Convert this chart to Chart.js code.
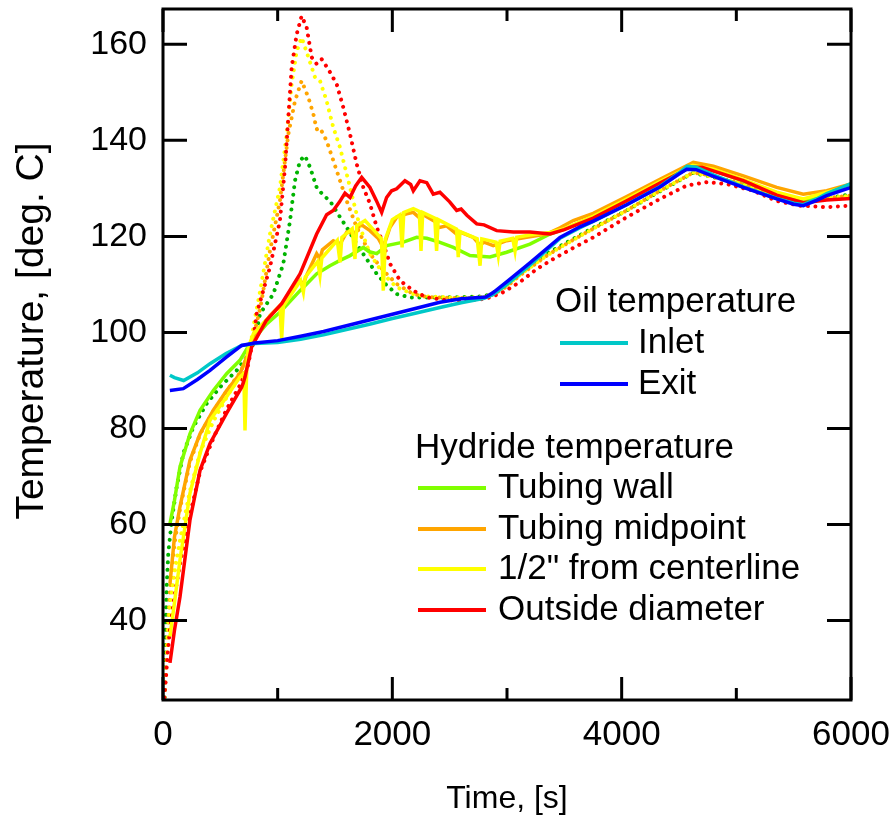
<!DOCTYPE html>
<html>
<head>
<meta charset="utf-8">
<title>Hydride and oil temperature</title>
<script src="https://cdn.jsdelivr.net/npm/chart.js@4.4.1/dist/chart.umd.min.js"></script>
<style>
    html, body { margin: 0; padding: 0; background: #fff; }
    canvas { display: block; }
</style>
</head>
<body>
<canvas id="tempChart" width="891" height="822"></canvas>
<script>
const xTicks = [0, 2000, 4000, 6000];
const xMinorTicks = [1000, 3000, 5000];
const yTicks = [40, 60, 80, 100, 120, 140, 160];

// oil temperature, [time s, deg C]
const inlet = [[60,91.1],[100,90.6],[180,90.0],[300,91.6],[410,93.5],[550,95.6],[686,97.3],[800,97.7],[900,97.8],[1000,97.9],[1200,98.6],[1400,99.5],[1600,100.6],[1800,101.7],[2000,102.9],[2200,104.0],[2415,105.2],[2600,106.2],[2800,107.1],[2880,107.9],[3000,110.0],[3200,114.0],[3462,119.6],[3636,121.8],[3752,123.1],[4044,126.6],[4334,130.4],[4500,133.2],[4570,134.6],[4650,134.4],[4800,132.8],[5061,130.3],[5352,127.9],[5500,126.9],[5584,126.6],[5700,127.8],[5788,128.9],[6000,131.0]];
const exit = [[60,87.9],[177,88.3],[300,90.2],[410,92.1],[550,94.8],[686,97.3],[800,97.8],[1000,98.3],[1200,99.2],[1400,100.2],[1600,101.4],[1800,102.6],[2000,103.8],[2200,105.0],[2415,106.3],[2600,107.0],[2815,107.4],[2880,108.3],[3000,110.6],[3200,114.5],[3462,119.8],[3636,122.0],[3752,123.2],[4044,126.6],[4334,130.3],[4500,133.0],[4567,134.0],[4650,133.9],[4800,132.5],[5061,130.2],[5352,127.8],[5500,126.7],[5584,126.4],[5700,127.5],[5788,128.5],[6000,130.2]];

// hydride temperature, solid lines
const tubingWall = [[61,60.2],[100,65.0],[148,72.0],[235,78.9],[323,83.8],[439,87.9],[555,91.4],[671,94.2],[759,97.7],[904,101.8],[1020,104.2],[1195,108.7],[1340,112.2],[1456,113.9],[1544,115.0],[1631,116.0],[1747,117.7],[1800,116.8],[1864,116.4],[1951,118.1],[2096,118.8],[2212,119.8],[2300,119.6],[2386,119.0],[2532,117.7],[2677,116.0],[2852,115.7],[2997,116.7],[3200,118.4],[3375,120.5],[3500,121.5],[3752,124.0],[4044,127.5],[4334,131.2],[4600,134.6],[4700,134.6],[5061,131.5],[5352,128.8],[5584,127.3],[5788,129.0],[6000,130.6]];
const tubingMid = [[61,47.7],[100,57.4],[148,63.7],[235,73.4],[323,78.9],[439,83.8],[555,87.9],[671,91.4],[730,94.9],[788,98.3],[933,103.5],[1049,106.3],[1195,110.8],[1224,110.0],[1250,111.8],[1340,116.4],[1369,115.3],[1390,117.2],[1485,119.1],[1544,118.4],[1602,120.9],[1674,120.6],[1718,122.6],[1805,121.2],[1880,119.5],[1921,117.7],[1980,121.9],[2038,124.0],[2125,124.7],[2183,125.0],[2250,123.6],[2270,124.5],[2386,122.9],[2400,121.8],[2474,122.2],[2575,120.2],[2590,120.9],[2706,119.8],[2765,118.2],[2800,118.8],[2880,118.1],[2997,119.1],[3171,119.8],[3346,120.5],[3462,121.8],[3578,123.3],[3752,124.8],[4044,128.3],[4334,131.9],[4625,135.4],[4800,134.6],[5061,132.6],[5352,130.2],[5584,128.8],[5788,129.5],[6000,130.9]];
const halfInch = [[61,36.7],[100,43.7],[148,52.6],[235,66.5],[323,74.8],[410,81.7],[555,86.6],[671,90.7],[705,91.5],[715,79.6],[730,92.0],[744,96.9],[788,99.7],[900,102.6],[1020,105.5],[1035,98.7],[1050,105.5],[1200,110.8],[1224,108.4],[1240,111.5],[1350,114.8],[1369,111.9],[1385,115.5],[1520,119.2],[1544,114.6],[1560,119.8],[1650,121.6],[1674,115.3],[1690,122.2],[1762,123.3],[1850,121.0],[1905,119.5],[1921,108.7],[1940,119.5],[2000,123.5],[2067,124.5],[2085,117.7],[2100,125.0],[2183,125.8],[2235,125.2],[2250,117.0],[2265,125.0],[2370,123.8],[2386,117.0],[2400,123.5],[2560,121.5],[2575,115.7],[2590,121.0],[2740,119.5],[2765,113.9],[2780,119.5],[2905,118.8],[2924,116.0],[2940,119.0],[3050,119.6],[3070,117.0],[3085,119.8],[3200,120.3],[3375,120.8],[3500,121.6],[3752,124.2],[4044,127.8],[4334,131.4],[4620,134.8],[4800,134.0],[5061,131.8],[5352,129.2],[5584,127.8],[5788,129.2],[6000,130.6]];
const outsideDia = [[61,31.2],[100,38.0],[148,44.9],[235,60.9],[323,71.3],[410,76.9],[555,83.2],[686,88.6],[700,89.5],[715,90.7],[773,97.0],[900,102.5],[1035,106.0],[1195,112.2],[1340,120.5],[1427,124.5],[1485,125.4],[1540,127.2],[1587,129.0],[1631,128.1],[1680,130.5],[1733,132.3],[1805,130.2],[1860,127.5],[1907,125.0],[1950,128.1],[1994,129.5],[2038,129.9],[2110,131.6],[2160,130.8],[2183,129.5],[2241,131.6],[2300,131.2],[2357,128.8],[2415,129.2],[2500,127.2],[2561,125.4],[2600,125.7],[2650,124.4],[2736,122.6],[2800,122.4],[2910,121.2],[3055,120.9],[3200,120.9],[3375,120.5],[3500,121.4],[3752,123.8],[4044,127.4],[4334,131.1],[4600,134.4],[4700,134.4],[5061,131.6],[5352,128.6],[5584,127.0],[5788,127.6],[6000,127.9]];

// hydride temperature, dotted lines (second run)
const tubingWall2 = [[15,24.0],[17,33.3],[32,47.0],[46,54.0],[76,60.9],[119,67.8],[177,74.8],[264,80.3],[381,85.2],[497,88.6],[643,92.1],[730,94.9],[802,98.3],[846,103.9],[962,108.0],[1049,114.3],[1108,123.3],[1151,131.6],[1195,135.8],[1238,136.8],[1282,134.4],[1340,130.2],[1400,128.5],[1456,127.4],[1544,124.0],[1602,121.9],[1689,118.4],[1776,115.3],[1864,112.2],[1951,109.8],[2038,108.0],[2154,107.3],[2300,107.3],[2474,107.3],[2650,107.4],[2800,107.5],[2880,108.3],[3000,110.0],[3113,112.2],[3346,116.4],[3578,119.5],[3752,121.8],[4044,125.4],[4334,129.4],[4620,133.2],[4750,132.6],[5061,130.8],[5352,127.9],[5584,126.8],[5788,127.9],[6000,128.8]];
const tubingMid2 = [[12,24.0],[25,30.0],[40,38.0],[60,46.0],[100,56.0],[150,63.5],[235,73.0],[323,78.8],[439,83.6],[555,87.8],[671,91.6],[760,96.0],[802,100.5],[850,105.3],[933,117.0],[1020,127.4],[1093,141.3],[1151,148.2],[1209,152.4],[1268,148.9],[1311,145.5],[1340,142.3],[1369,142.6],[1427,139.9],[1485,135.8],[1544,131.6],[1602,127.4],[1689,121.9],[1805,116.4],[1921,112.9],[2038,110.1],[2183,108.0],[2300,107.4],[2500,107.2],[2700,107.2],[2800,107.3],[2880,107.9],[3000,109.6],[3113,111.9],[3346,116.0],[3578,119.3],[3752,121.6],[4044,125.4],[4334,129.5],[4625,133.3],[4750,132.8],[5061,130.9],[5352,128.0],[5584,126.8],[5788,128.0],[6000,128.5]];
const halfInch2 = [[12,24.0],[25,29.0],[40,36.0],[60,43.0],[100,50.0],[150,57.0],[235,67.0],[323,75.0],[439,81.5],[555,86.5],[671,91.0],[760,97.0],[802,103.0],[850,109.0],[933,120.5],[1020,130.2],[1079,141.3],[1122,151.7],[1166,158.6],[1209,161.4],[1268,157.3],[1326,153.1],[1369,152.4],[1427,148.2],[1485,142.7],[1544,138.5],[1602,133.0],[1660,127.4],[1718,121.9],[1805,116.4],[1921,112.2],[2038,109.4],[2183,108.0],[2300,107.5],[2500,107.3],[2700,107.3],[2800,107.4],[2880,108.0],[3000,109.8],[3113,112.0],[3346,116.0],[3462,117.7],[3752,121.6],[4044,125.4],[4334,129.5],[4625,133.3],[4750,132.6],[5061,130.9],[5352,127.8],[5584,126.8],[5788,127.9],[6000,128.5]];
const outsideDia2 = [[12,24.0],[25,28.0],[40,33.0],[60,38.0],[100,45.0],[150,52.0],[235,62.0],[323,71.0],[439,78.0],[555,84.0],[671,89.0],[740,93.0],[790,99.0],[817,103.9],[933,113.6],[1020,123.3],[1064,134.4],[1093,144.8],[1122,155.2],[1166,162.1],[1209,165.9],[1253,163.5],[1297,157.3],[1340,155.9],[1384,156.9],[1442,154.8],[1515,151.7],[1573,146.8],[1631,141.3],[1689,135.1],[1747,130.2],[1805,126.8],[1864,121.9],[1921,118.4],[1980,114.3],[2067,110.8],[2183,108.7],[2299,107.3],[2450,106.8],[2600,106.6],[2750,106.8],[2852,107.3],[2968,108.4],[3113,110.5],[3259,113.2],[3404,115.3],[3578,117.6],[3752,119.8],[4044,124.0],[4334,127.8],[4567,130.6],[4741,131.3],[4916,130.9],[5149,129.5],[5352,127.4],[5555,126.4],[5788,126.1],[6000,126.4]];

const colors = {
    inlet: '#00c8c8',
    exit: '#0000ff',
    wall: '#80ff00',
    wallDotted: '#00b400',
    mid: '#ffa500',
    half: '#ffff00',
    outside: '#ff0000',
};

const FONT = '"Liberation Sans", Arial, sans-serif';

const toPoints = (rows) => rows.map(([x, y]) => ({ x, y }));

const solid = (label, rows, color) => ({
    label,
    data: toPoints(rows),
    borderColor: color,
    borderWidth: 3.5,
    pointRadius: 0,
    fill: false,
});

const dotted = (label, rows, color) => ({
    label,
    data: toPoints(rows),
    borderColor: color,
    borderWidth: 4,
    borderDash: [0.01, 7.5],
    borderCapStyle: 'round',
    pointRadius: 0,
    fill: false,
});

// first dataset is drawn on top
const datasets = [
    solid('Exit', exit, colors.exit),
    solid('Inlet', inlet, colors.inlet),
    solid('Outside diameter', outsideDia, colors.outside),
    solid('1/2" from centerline', halfInch, colors.half),
    solid('Tubing midpoint', tubingMid, colors.mid),
    solid('Tubing wall', tubingWall, colors.wall),
    dotted('Outside diameter (run 2)', outsideDia2, colors.outside),
    dotted('1/2" from centerline (run 2)', halfInch2, colors.half),
    dotted('Tubing midpoint (run 2)', tubingMid2, colors.mid),
    dotted('Tubing wall (run 2)', tubingWall2, colors.wallDotted),
];

// box, inward ticks on all four sides
const framePlugin = {
    id: 'frame',
    afterDatasetsDraw(chart) {
        const { ctx, chartArea: a, scales: { x, y } } = chart;
        ctx.save();
        ctx.strokeStyle = '#000';
        ctx.lineWidth = 3;
        ctx.lineCap = 'butt';
        ctx.strokeRect(a.left, a.top, a.right - a.left, a.bottom - a.top);
        ctx.beginPath();
        yTicks.forEach((v) => {
            const py = y.getPixelForValue(v);
            ctx.moveTo(a.left, py);
            ctx.lineTo(a.left + 24, py);
            ctx.moveTo(a.right, py);
            ctx.lineTo(a.right - 24, py);
        });
        const xMark = (v, len) => {
            const px = x.getPixelForValue(v);
            ctx.moveTo(px, a.bottom);
            ctx.lineTo(px, a.bottom - len);
            ctx.moveTo(px, a.top);
            ctx.lineTo(px, a.top + len);
        };
        xTicks.forEach((v) => xMark(v, 23));
        xMinorTicks.forEach((v) => xMark(v, 12));
        ctx.stroke();
        ctx.restore();
    },
};

const legendGroups = [
    { title: 'Oil temperature', titleX: 555, titleY: 302, lineX: 560, textX: 638, items: [['Inlet', 343], ['Exit', 384]] },
    {
        title: 'Hydride temperature', titleX: 415, titleY: 448, lineX: 418, textX: 498,
        items: [['Tubing wall', 488], ['Tubing midpoint', 529], ['1/2" from centerline', 569], ['Outside diameter', 610]],
    },
];

const notesPlugin = {
    id: 'notes',
    afterDraw(chart) {
        const { ctx } = chart;
        ctx.save();
        ctx.fillStyle = '#000';

        // y axis title
        ctx.save();
        ctx.translate(32, 331);
        ctx.rotate(-Math.PI / 2);
        ctx.font = `39px ${FONT}`;
        ctx.textAlign = 'center';
        ctx.textBaseline = 'middle';
        ctx.fillText('Temperature, [deg. C]', 0, 0);
        ctx.restore();

        // legend
        ctx.font = `35px ${FONT}`;
        ctx.textAlign = 'left';
        ctx.textBaseline = 'middle';
        legendGroups.forEach((group) => {
            ctx.fillText(group.title, group.titleX, group.titleY);
            group.items.forEach(([label, ly]) => {
                const ds = chart.data.datasets.find((d) => d.label === label);
                ctx.strokeStyle = ds.borderColor;
                ctx.lineWidth = 4;
                ctx.beginPath();
                ctx.moveTo(group.lineX, ly);
                ctx.lineTo(group.lineX + 68, ly);
                ctx.stroke();
                ctx.fillText(label, group.textX, ly);
            });
        });
        ctx.restore();
    },
};

document.addEventListener('DOMContentLoaded', () => {
    const ctx = document.getElementById('tempChart').getContext('2d');

    new Chart(ctx, {
        type: 'line',
        data: { datasets },
        options: {
            responsive: false,
            animation: false,
            layout: { padding: { left: 0, right: 40, top: 9, bottom: 0 } },
            elements: { line: { tension: 0 }, point: { radius: 0 } },
            plugins: {
                legend: { display: false },
                tooltip: { enabled: false },
            },
            scales: {
                x: {
                    type: 'linear',
                    min: 0,
                    max: 6000,
                    grid: { display: false, drawTicks: false },
                    border: { display: false },
                    afterBuildTicks: (scale) => {
                        scale.ticks = xTicks.map((v) => ({ value: v }));
                    },
                    afterFit: (scale) => {
                        scale.height = 122;
                        scale.paddingLeft = 0;
                        scale.paddingRight = 0;
                    },
                    ticks: {
                        color: '#000',
                        padding: 14,
                        maxRotation: 0,
                        font: { family: FONT, size: 35 },
                        callback: (v) => String(v),
                    },
                    title: {
                        display: true,
                        text: 'Time, [s]',
                        color: '#000',
                        font: { family: FONT, size: 32 },
                        padding: { top: 0, bottom: 4 },
                    },
                },
                y: {
                    type: 'linear',
                    min: 23.47,
                    max: 167.35,
                    grid: { display: false, drawTicks: false },
                    border: { display: false },
                    afterBuildTicks: (scale) => {
                        scale.ticks = yTicks.map((v) => ({ value: v }));
                    },
                    afterFit: (scale) => {
                        scale.width = 163;
                        scale.paddingTop = 0;
                        scale.paddingBottom = 0;
                    },
                    ticks: {
                        color: '#000',
                        padding: 16,
                        font: { family: FONT, size: 34 },
                        callback: (v) => String(v),
                    },
                },
            },
        },
        plugins: [framePlugin, notesPlugin],
    });
});
</script>
</body>
</html>
